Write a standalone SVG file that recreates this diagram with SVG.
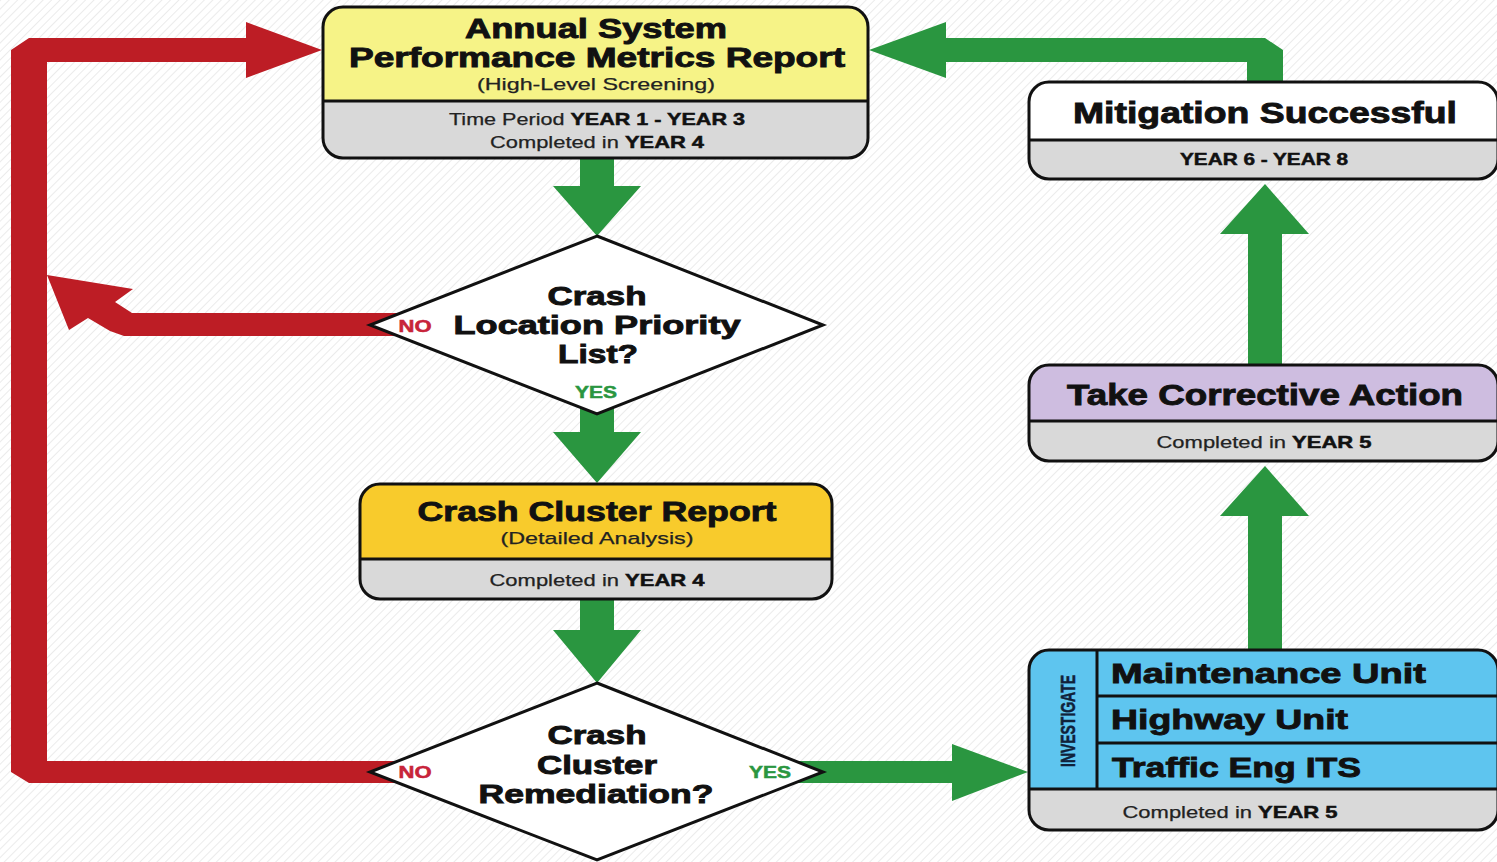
<svg xmlns="http://www.w3.org/2000/svg" width="1497" height="862" viewBox="0 0 1497 862">
<defs>
<pattern id="bg" width="6" height="6" patternUnits="userSpaceOnUse" patternTransform="rotate(45)">
<rect width="6" height="6" fill="#ffffff"/>
<line x1="0" y1="0" x2="0" y2="6" stroke="#e6e6e6" stroke-width="1.6"/>
</pattern>
<style>
.t{font-family:"Liberation Sans",Arial,sans-serif;font-weight:bold;fill:#111;stroke:#111;stroke-width:0.9;text-anchor:middle}
.s{font-family:"Liberation Sans",Arial,sans-serif;font-weight:normal;fill:#222;stroke:#222;stroke-width:0.25;text-anchor:middle;font-size:17px}
.b{font-weight:bold;fill:#111;stroke:#111;stroke-width:0.5}
.l{text-anchor:start}
.box{fill:none;stroke:#111;stroke-width:3}
.gray{fill:#d9d9d9}
.div{stroke:#111;stroke-width:3}
.dia{fill:#ffffff;stroke:#111;stroke-width:3;stroke-linejoin:miter}
.g{fill:#2a9640}
.r{fill:#bd1d25}
.no{font-family:"Liberation Sans",Arial,sans-serif;font-weight:bold;font-size:16px;fill:#c8243a;stroke:#c8243a;stroke-width:0.5;text-anchor:middle}
.yes{font-family:"Liberation Sans",Arial,sans-serif;font-weight:bold;font-size:16px;fill:#2a9640;stroke:#2a9640;stroke-width:0.5;text-anchor:middle}
</style>
</defs>
<rect width="1497" height="862" fill="url(#bg)"/>

<g id="connectors">
<polygon class="g" points="580,150 614,150 614,186 641,186 597,236 553,186 580,186"/>
<polygon class="g" points="580,400 614,400 614,432 641,432 597,483 553,432 580,432"/>
<polygon class="g" points="580,595 614,595 614,630 641,630 597,683 553,630 580,630"/>
<polygon class="g" points="795,761 952,761 952,744 1028,772 952,801 952,783 795,783"/>
<polygon class="g" points="1248,655 1248,516 1220,516 1265,466 1309,516 1282,516 1282,655"/>
<polygon class="g" points="1248,370 1248,234 1220,234 1265,184 1309,234 1282,234 1282,370"/>
<polygon class="g" points="1247,90 1247,62 946,62 946,78 869,50 946,22 946,38 1265,38 1283,50 1283,90"/>
<polygon class="r" points="400,761 47,761 47,62 246,62 246,78 322,50 246,22 246,38 29,38 11,50 11,772 29,783 400,783"/>
<polygon class="r" points="400,313 132,313 115,302 133,289 47,275 69,330 88,318 110,331 124,336 400,336"/>
</g>

<g id="annual-report">
<rect class="gray" x="323" y="7" width="545" height="151" rx="20"/>
<path fill="#f6f387" d="M323,101 V27 A20,20 0 0 1 343,7 H848 A20,20 0 0 1 868,27 V101 Z"/>
<line class="div" x1="323" y1="101" x2="868" y2="101"/>
<rect class="box" x="323" y="7" width="545" height="151" rx="20"/>
<text class="t" x="596" y="38" font-size="27" textLength="262" lengthAdjust="spacingAndGlyphs">Annual System</text>
<text class="t" x="597" y="67" font-size="27" textLength="496" lengthAdjust="spacingAndGlyphs">Performance Metrics Report</text>
<text class="s" x="596" y="90" font-size="17" textLength="238" lengthAdjust="spacingAndGlyphs">(High-Level Screening)</text>
<text class="s" x="597" y="125" textLength="296" lengthAdjust="spacingAndGlyphs">Time Period <tspan class="b">YEAR 1 - YEAR 3</tspan></text>
<text class="s" x="597" y="148" textLength="214" lengthAdjust="spacingAndGlyphs">Completed in <tspan class="b">YEAR 4</tspan></text>
</g>

<g id="priority-list">
<polygon class="dia" points="597,236 823,325 597,414 370,325"/>
<text class="t" x="597" y="305" font-size="26" textLength="99" lengthAdjust="spacingAndGlyphs">Crash</text>
<text class="t" x="597" y="334" font-size="26" textLength="287" lengthAdjust="spacingAndGlyphs">Location Priority</text>
<text class="t" x="598" y="363" font-size="26" textLength="80" lengthAdjust="spacingAndGlyphs">List?</text>
<text class="no" x="415" y="332" textLength="33" lengthAdjust="spacingAndGlyphs">NO</text>
<text class="yes" x="596" y="398" textLength="42" lengthAdjust="spacingAndGlyphs">YES</text>
</g>

<g id="cluster-report">
<rect class="gray" x="360" y="484" width="472" height="115" rx="20"/>
<path fill="#f8cb2c" d="M360,559 V504 A20,20 0 0 1 380,484 H812 A20,20 0 0 1 832,504 V559 Z"/>
<line class="div" x1="360" y1="559" x2="832" y2="559"/>
<rect class="box" x="360" y="484" width="472" height="115" rx="20"/>
<text class="t" x="597" y="521" font-size="28" textLength="359" lengthAdjust="spacingAndGlyphs">Crash Cluster Report</text>
<text class="s" x="597" y="544" textLength="193" lengthAdjust="spacingAndGlyphs">(Detailed Analysis)</text>
<text class="s" x="597" y="586" textLength="215" lengthAdjust="spacingAndGlyphs">Completed in <tspan class="b">YEAR 4</tspan></text>
</g>

<g id="remediation">
<polygon class="dia" points="597,683 823,772 597,860 370,772"/>
<text class="t" x="597" y="744" font-size="26" textLength="99" lengthAdjust="spacingAndGlyphs">Crash</text>
<text class="t" x="597" y="774" font-size="26" textLength="120" lengthAdjust="spacingAndGlyphs">Cluster</text>
<text class="t" x="596" y="803" font-size="26" textLength="235" lengthAdjust="spacingAndGlyphs">Remediation?</text>
<text class="no" x="415" y="778" textLength="33" lengthAdjust="spacingAndGlyphs">NO</text>
<text class="yes" x="770" y="778" textLength="42" lengthAdjust="spacingAndGlyphs">YES</text>
</g>

<g id="investigate">
<rect class="gray" x="1029" y="650" width="469" height="180" rx="20"/>
<path fill="#5ec5ef" d="M1029,789 V670 A20,20 0 0 1 1049,650 H1478 A20,20 0 0 1 1498,670 V789 Z"/>
<line class="div" x1="1029" y1="789" x2="1498" y2="789"/>
<line class="div" x1="1097" y1="650" x2="1097" y2="789"/>
<line class="div" x1="1097" y1="696" x2="1498" y2="696"/>
<line class="div" x1="1097" y1="743" x2="1498" y2="743"/>
<rect class="box" x="1029" y="650" width="469" height="180" rx="20"/>
<text class="t" transform="translate(1075,721) rotate(-90)" font-size="20" style="fill:#10213a;stroke:#10213a;stroke-width:0.5" textLength="92" lengthAdjust="spacingAndGlyphs">INVESTIGATE</text>
<text class="t l" x="1111" y="683" font-size="28" textLength="315" lengthAdjust="spacingAndGlyphs">Maintenance Unit</text>
<text class="t l" x="1111" y="729" font-size="28" textLength="237" lengthAdjust="spacingAndGlyphs">Highway Unit</text>
<text class="t l" x="1112" y="777" font-size="28" textLength="249" lengthAdjust="spacingAndGlyphs">Traffic Eng ITS</text>
<text class="s" x="1230" y="818" textLength="215" lengthAdjust="spacingAndGlyphs">Completed in <tspan class="b">YEAR 5</tspan></text>
</g>

<g id="corrective-action">
<rect class="gray" x="1029" y="365" width="469" height="96" rx="20"/>
<path fill="#cebde0" d="M1029,421 V385 A20,20 0 0 1 1049,365 H1478 A20,20 0 0 1 1498,385 V421 Z"/>
<line class="div" x1="1029" y1="421" x2="1498" y2="421"/>
<rect class="box" x="1029" y="365" width="469" height="96" rx="20"/>
<text class="t" x="1265" y="405" font-size="29" textLength="396" lengthAdjust="spacingAndGlyphs">Take Corrective Action</text>
<text class="s" x="1264" y="448" textLength="215" lengthAdjust="spacingAndGlyphs">Completed in <tspan class="b">YEAR 5</tspan></text>
</g>

<g id="mitigation">
<rect class="gray" x="1029" y="82" width="469" height="97" rx="20"/>
<path fill="#ffffff" d="M1029,140 V102 A20,20 0 0 1 1049,82 H1478 A20,20 0 0 1 1498,102 V140 Z"/>
<line class="div" x1="1029" y1="140" x2="1498" y2="140"/>
<rect class="box" x="1029" y="82" width="469" height="97" rx="20"/>
<text class="t" x="1265" y="123" font-size="30" textLength="384" lengthAdjust="spacingAndGlyphs">Mitigation Successful</text>
<text class="t" x="1264" y="165" font-size="17" style="stroke-width:0.5" textLength="168" lengthAdjust="spacingAndGlyphs">YEAR 6 - YEAR 8</text>
</g>
</svg>
